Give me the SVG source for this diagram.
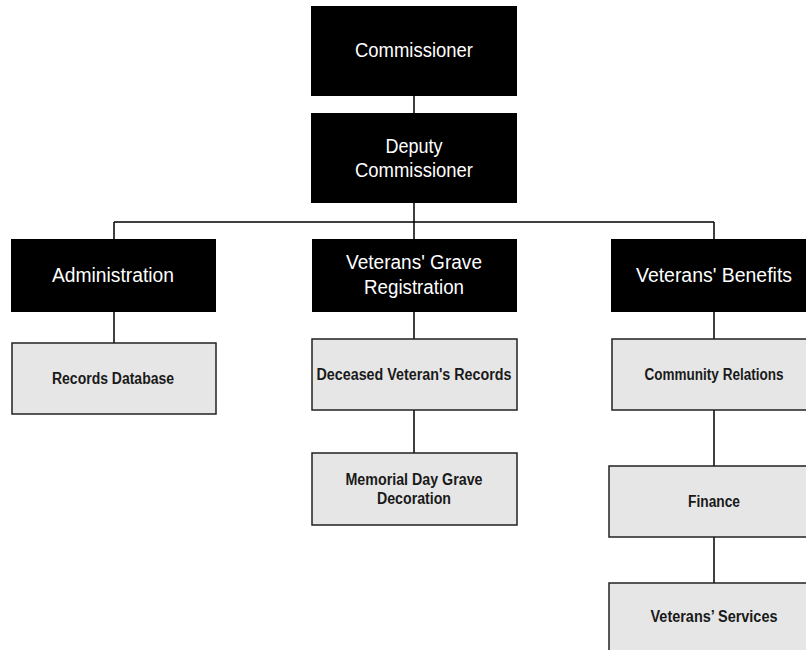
<svg xmlns="http://www.w3.org/2000/svg" width="806" height="650" viewBox="0 0 806 650">
<style>
.dark{fill:#000}
.light{fill:#e6e6e6;stroke:#222;stroke-width:1.5}
.tw{fill:#fff;font-family:"Liberation Sans",Arial,sans-serif;font-size:20px;text-anchor:middle}
.tb{fill:#1a1a1a;font-family:"Liberation Sans",Arial,sans-serif;font-size:16px;font-weight:bold;text-anchor:middle}
.conn{stroke:#000;stroke-width:1.5;fill:none}
</style>
<rect width="806" height="650" fill="#fff"/>
<g id="connectors" class="conn">
<path d="M414 96V113M414 203V239M114 222H714M114 222V239M714 222V239"/>
<path d="M114 312V343"/>
<path d="M414 312V339M414 410V453"/>
<path d="M714 312V339M714 410V466M714 537V583"/>
</g>
<g id="commissioner"><rect class="dark" x="311" y="6" width="206" height="90"/><text class="tw" x="414" y="57" textLength="118" lengthAdjust="spacingAndGlyphs">Commissioner</text></g>
<g id="deputy"><rect class="dark" x="311" y="113" width="206" height="90"/><text class="tw" x="414" y="153" textLength="57" lengthAdjust="spacingAndGlyphs">Deputy</text><text class="tw" x="414" y="177" textLength="118" lengthAdjust="spacingAndGlyphs">Commissioner</text></g>
<g id="administration"><rect class="dark" x="11" y="239" width="205" height="73"/><text class="tw" x="113" y="282" textLength="122" lengthAdjust="spacingAndGlyphs">Administration</text></g>
<g id="grave-registration"><rect class="dark" x="312" y="239" width="205" height="73"/><text class="tw" x="414" y="269" textLength="136" lengthAdjust="spacingAndGlyphs">Veterans' Grave</text><text class="tw" x="414" y="294" textLength="100" lengthAdjust="spacingAndGlyphs">Registration</text></g>
<g id="benefits"><rect class="dark" x="611" y="239" width="206" height="73"/><text class="tw" x="714" y="282" textLength="156" lengthAdjust="spacingAndGlyphs">Veterans' Benefits</text></g>
<g id="records-db"><rect class="light" x="12" y="343" width="204" height="71"/><text class="tb" x="113" y="384" textLength="122" lengthAdjust="spacingAndGlyphs">Records Database</text></g>
<g id="deceased"><rect class="light" x="312" y="339" width="205" height="71"/><text class="tb" x="414" y="380" textLength="195" lengthAdjust="spacingAndGlyphs">Deceased Veteran's Records</text></g>
<g id="memorial"><rect class="light" x="312" y="453" width="205" height="72"/><text class="tb" x="414" y="485" textLength="137" lengthAdjust="spacingAndGlyphs">Memorial Day Grave</text><text class="tb" x="414" y="504" textLength="74" lengthAdjust="spacingAndGlyphs">Decoration</text></g>
<g id="community"><rect class="light" x="612" y="339" width="205" height="71"/><text class="tb" x="714" y="380" textLength="139" lengthAdjust="spacingAndGlyphs">Community Relations</text></g>
<g id="finance"><rect class="light" x="609" y="466" width="208" height="71"/><text class="tb" x="714" y="507" textLength="52" lengthAdjust="spacingAndGlyphs">Finance</text></g>
<g id="services"><rect class="light" x="609" y="583" width="208" height="80"/><text class="tb" x="714" y="622" textLength="127" lengthAdjust="spacingAndGlyphs">Veterans’ Services</text></g>
</svg>
